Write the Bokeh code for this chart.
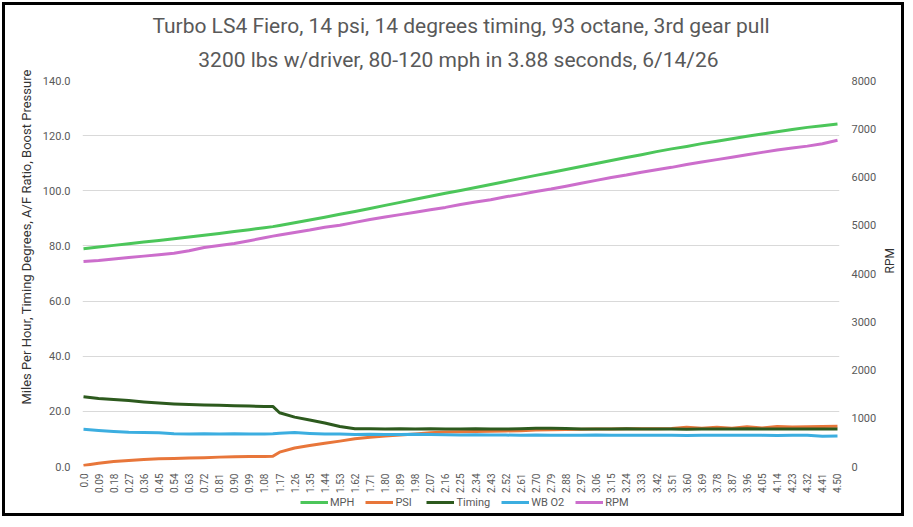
import math
from bokeh.plotting import figure
from bokeh.layouts import column
from bokeh.models import (Range1d, LinearAxis, FixedTicker, NumeralTickFormatter,
                          Legend, LegendItem, Title)
from bokeh.embed import file_html
from bokeh.resources import INLINE

TITLE_1 = "Turbo LS4 Fiero, 14 psi, 14 degrees timing, 93 octane, 3rd gear pull"
TITLE_2 = "3200 lbs w/driver,  80-120 mph in 3.88 seconds, 6/14/26"
Y_LABEL = "Miles Per Hour,  Timing Degrees,  A/F Ratio,  Boost Pressure"
Y2_LABEL = "RPM"

TICK_LABELS = ["0.0", "0.09", "0.18", "0.27", "0.36", "0.45", "0.54", "0.63", "0.72", "0.81",
               "0.90", "0.99", "1.08", "1.17", "1.26", "1.35", "1.44", "1.53", "1.62", "1.71",
               "1.80", "1.89", "1.98", "2.07", "2.16", "2.25", "2.34", "2.43", "2.52", "2.61",
               "2.70", "2.79", "2.88", "2.97", "3.06", "3.15", "3.24", "3.33", "3.42", "3.51",
               "3.60", "3.69", "3.78", "3.87", "3.96", "4.05", "4.14", "4.23", "4.32", "4.41",
               "4.50"]

TIME = [0.00, 0.09, 0.18, 0.27, 0.36, 0.45, 0.54, 0.63, 0.72, 0.81, 0.90, 0.99, 1.08, 1.13,
        1.17, 1.26, 1.35, 1.44, 1.53, 1.62, 1.71, 1.80, 1.89, 1.98, 2.07, 2.16, 2.25, 2.34,
        2.43, 2.52, 2.61, 2.70, 2.79, 2.88, 2.97, 3.06, 3.15, 3.24, 3.33, 3.42, 3.51, 3.60,
        3.69, 3.78, 3.87, 3.96, 4.05, 4.14, 4.23, 4.32, 4.41, 4.50]

MPH = [79.0, 79.6, 80.2, 80.8, 81.4, 82.0, 82.6, 83.2, 83.9, 84.5, 85.2, 85.9, 86.6, 87.0,
       87.4, 88.4, 89.4, 90.4, 91.5, 92.5, 93.6, 94.7, 95.8, 96.9, 98.0, 99.1, 100.1, 101.2,
       102.3, 103.4, 104.5, 105.6, 106.6, 107.7, 108.8, 109.9, 111.0, 112.1, 113.1, 114.2,
       115.2, 116.1, 117.1, 118.0, 118.9, 119.8, 120.6, 121.4, 122.2, 123.0, 123.6, 124.2]

PSI = [0.4, 1.2, 1.8, 2.2, 2.5, 2.8, 2.9, 3.1, 3.2, 3.4, 3.5, 3.6, 3.6, 3.7,
       5.2, 6.7, 7.6, 8.4, 9.2, 10.1, 10.6, 11.1, 11.4, 11.8, 12.2, 12.5, 12.6, 12.7,
       12.8, 12.9, 13.0, 13.2, 13.3, 13.4, 13.5, 13.6, 13.6, 13.7, 13.7, 13.7, 13.8, 14.2,
       13.9, 14.2, 13.9, 14.4, 14.0, 14.5, 14.3, 14.4, 14.5, 14.6]

TIMING = [25.3, 24.7, 24.3, 23.9, 23.4, 23.0, 22.7, 22.5, 22.3, 22.2, 22.0, 21.9, 21.8, 21.8,
          19.5, 17.9, 16.9, 15.8, 14.5, 13.7, 13.7, 13.6, 13.7, 13.6, 13.7, 13.6, 13.6, 13.7,
          13.6, 13.6, 13.7, 13.9, 13.9, 13.8, 13.6, 13.6, 13.6, 13.7, 13.6, 13.6, 13.6, 13.5,
          13.6, 13.6, 13.6, 13.7, 13.6, 13.6, 13.6, 13.6, 13.6, 13.6]

WB_O2 = [13.5, 13.1, 12.7, 12.4, 12.3, 12.2, 11.9, 11.8, 11.9, 11.8, 11.9, 11.8, 11.8, 11.9,
         12.1, 12.3, 12.0, 11.8, 11.8, 11.6, 11.7, 11.6, 11.6, 11.7, 11.6, 11.5, 11.4, 11.5,
         11.4, 11.4, 11.3, 11.4, 11.3, 11.3, 11.3, 11.4, 11.3, 11.3, 11.3, 11.3, 11.3, 11.2,
         11.3, 11.3, 11.3, 11.3, 11.3, 11.2, 11.3, 11.3, 11.0, 11.1]

RPM = [4250, 4270, 4300, 4330, 4360, 4390, 4420, 4470, 4540, 4580, 4620, 4680, 4740, 4775,
       4800, 4850, 4900, 4960, 5000, 5060, 5120, 5170, 5220, 5270, 5320, 5370, 5430, 5480,
       5530, 5590, 5640, 5700, 5750, 5810, 5870, 5930, 5990, 6040, 6100, 6150, 6200, 6260,
       6310, 6360, 6410, 6460, 6510, 6560, 6600, 6640, 6690, 6760]

SERIES = [("MPH", MPH, "#4CC65A", "default"),
          ("PSI", PSI, "#E8763A", "default"),
          ("Timing", TIMING, "#2D5A1E", "default"),
          ("WB O2", WB_O2, "#3CAEE0", "default"),
          ("RPM", RPM, "#CC6ECC", "rpm")]

FONT = "Roboto"
GRAY = "#595959"
DARK = "#333333"


def style_axis(ax, size="11px", standoff=12):
    ax.axis_line_color = None
    ax.major_tick_line_color = None
    ax.minor_tick_line_color = None
    ax.major_tick_out = 0
    ax.major_tick_in = 0
    ax.minor_tick_out = 0
    ax.minor_tick_in = 0
    ax.major_label_standoff = standoff
    ax.major_label_text_font = FONT
    ax.major_label_text_font_size = size
    ax.major_label_text_color = GRAY


# ---------------- main chart ----------------
p = figure(width=902, height=491, output_backend="svg", toolbar_location=None,
           title=None, x_range=Range1d(-0.006, 4.512), y_range=Range1d(0, 140),
           min_border_left=77, min_border_right=67, min_border_top=75, min_border_bottom=30)
p.styles = {"border-style": "solid", "border-color": "black",
            "border-width": "3px 3px 0 3px", "margin": "2px 0 0 2px"}
p.extra_y_ranges = {"rpm": Range1d(0, 8000)}
p.outline_line_color = None
p.background_fill_color = "white"
p.border_fill_color = "white"

xa = p.xaxis[0]
xa.ticker = FixedTicker(ticks=[float(s) for s in TICK_LABELS])
xa.major_label_overrides = {float(s): s for s in TICK_LABELS}
xa.major_label_orientation = math.pi / 2
style_axis(xa, size="10px", standoff=7)

ya = p.yaxis[0]
ya.ticker = FixedTicker(ticks=[0, 20, 40, 60, 80, 100, 120, 140])
ya.formatter = NumeralTickFormatter(format="0.0")
style_axis(ya)

ra = LinearAxis(y_range_name="rpm", ticker=FixedTicker(ticks=list(range(0, 8001, 1000))),
                formatter=NumeralTickFormatter(format="0"))
style_axis(ra)
ra.axis_label = Y2_LABEL
ra.axis_label_standoff = 11
ra.axis_label_text_font = FONT
ra.axis_label_text_font_size = "12px"
ra.axis_label_text_font_style = "normal"
ra.axis_label_text_color = DARK
ra.axis_label_orientation = math.pi / 2
p.add_layout(ra, "right")

p.xgrid.grid_line_color = None
p.ygrid.grid_line_color = "#D9D9D9"
p.ygrid.grid_line_width = 1

for name, vals, color, rng in SERIES:
    p.line(TIME, vals, line_color=color, line_width=3, line_join="round", y_range_name=rng)

# titles: first added sits nearest the plot
p.add_layout(Title(text=TITLE_2, align="center", standoff=17, text_font=FONT,
                   text_font_size="21px", text_font_style="normal", text_color=GRAY), "above")
p.add_layout(Title(text=TITLE_1, align="center", standoff=0, text_font=FONT,
                   text_font_size="21px", text_font_style="normal", text_color=GRAY), "above")

# left axis title
p.add_layout(Title(text=Y_LABEL, align="left", offset=62, standoff=11, text_font=FONT,
                   text_font_size="13px", text_font_style="normal", text_color=DARK), "left")

# ---------------- legend strip ----------------
q = figure(width=902, height=23, output_backend="svg", toolbar_location=None,
           title=None, x_axis_location=None, y_axis_location=None,
           x_range=Range1d(0, 4.5), y_range=Range1d(-1001, -1000), min_border=0)
q.extra_y_ranges = {"rpm": Range1d(-1001, -1000)}
q.styles = {"border-style": "solid", "border-color": "black",
            "border-width": "0 3px 3px 3px", "margin": "0 0 0 2px"}
q.outline_line_color = None
q.grid.visible = False
q.background_fill_color = "white"
q.border_fill_color = "white"

items = []
for name, vals, color, rng in SERIES:
    r = q.line(TIME, vals, line_color=color, line_width=3, y_range_name=rng)
    items.append(LegendItem(label=name, renderers=[r]))

legend = Legend(items=items, orientation="horizontal", location=(218, 7),
                glyph_width=28, glyph_height=12, label_standoff=2, spacing=11,
                padding=0, margin=0, label_height=14,
                border_line_color=None, background_fill_alpha=0,
                label_text_font=FONT, label_text_font_size="11px",
                label_text_color=GRAY)
q.add_layout(legend)

layout = column(p, q, spacing=0)
open("out.html", "w").write(file_html(layout, INLINE))
